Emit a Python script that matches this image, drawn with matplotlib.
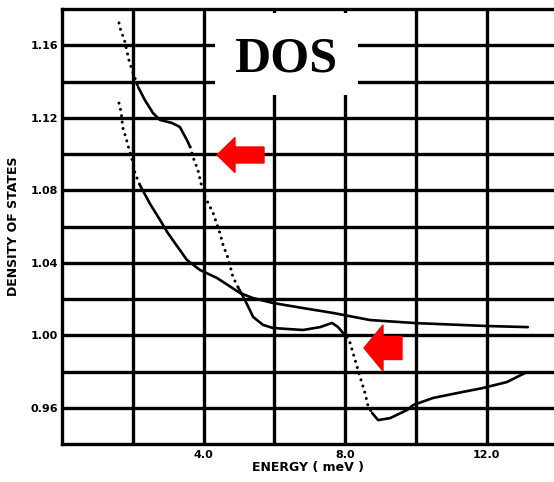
import matplotlib
matplotlib.use('Agg')
import matplotlib.pyplot as plt
from matplotlib.patches import Rectangle, FancyArrow
from matplotlib.transforms import IdentityTransform

# curve A: smooth falling curve (dotted start, then solid)
a_dot_x = [1.61, 1.67, 1.72, 1.81, 1.86, 2.01, 2.06, 2.20]
a_dot_y = [1.1281, 1.1232, 1.1143, 1.1088, 1.1050, 1.0950, 1.0895, 1.0829]
a_x = [2.20, 2.49, 2.77, 2.99, 3.53, 3.90, 4.38, 5.03, 5.40, 5.96, 6.81, 7.66,
       8.70, 10.0, 12.01, 13.16]
a_y = [1.0829, 1.0724, 1.0636, 1.0564, 1.0415, 1.0360, 1.0316, 1.0233, 1.0205,
       1.0178, 1.0150, 1.0123, 1.0084, 1.0067, 1.0051, 1.0045]

# curve B: shoulder curve with dip near 9 meV, split into solid / dotted parts
b_dot1_x = [1.61, 1.67, 1.75, 1.84, 1.89, 1.98, 2.15]
b_dot1_y = [1.1723, 1.1673, 1.1640, 1.1563, 1.1519, 1.1463, 1.1370]
b_sol1_x = [2.15, 2.34, 2.57, 2.77, 3.11, 3.33, 3.53, 3.62]
b_sol1_y = [1.1370, 1.1298, 1.1226, 1.1188, 1.1171, 1.1149, 1.1077, 1.1039]
b_dot2_x = [3.62, 3.70, 3.84, 3.95, 4.04, 4.27, 4.46, 4.55, 4.69, 4.83, 4.97]
b_dot2_y = [1.1039, 1.0983, 1.0912, 1.0818, 1.0763, 1.0674, 1.0564, 1.0498,
            1.0426, 1.0321, 1.0266]
b_sol2_x = [4.97, 5.17, 5.40, 5.68, 5.96, 6.81, 7.29, 7.63, 7.80, 7.94, 8.05]
b_sol2_y = [1.0266, 1.0194, 1.0101, 1.0057, 1.0040, 1.0029, 1.0045, 1.0068,
            1.0045, 1.0012, 0.9990]
b_dot3_x = [8.05, 8.14, 8.28, 8.42, 8.56, 8.64, 8.76]
b_dot3_y = [0.9990, 0.9957, 0.9863, 0.9770, 0.9681, 0.9615, 0.9571]
b_sol3_x = [8.76, 8.93, 9.27, 9.75, 9.92, 10.48, 11.16, 11.89, 12.57, 13.08]
b_sol3_y = [0.9571, 0.9532, 0.9543, 0.9588, 0.9615, 0.9654, 0.9681, 0.9709,
            0.9742, 0.9792]

x_grid = [2, 4, 6, 8, 10, 12]
x_labels = ['', '4.0', '', '8.0', '', '12.0']
y_grid = [0.96, 0.98, 1.00, 1.02, 1.04, 1.06, 1.08, 1.10, 1.12, 1.14, 1.16]
y_labels = ['0.96', '', '1.00', '', '1.04', '', '1.08', '', '1.12', '', '1.16']


def main():
    fig = plt.figure(figsize=(5.54, 4.82), dpi=100)
    ax = fig.add_axes([0.1119, 0.0788, 0.8946, 0.9025])
    ax.set_xlim(0, 14)
    ax.set_ylim(0.94, 1.18)

    solid = dict(color='black', lw=1.9, solid_capstyle='round', zorder=4)
    dotted = dict(color='black', lw=2.2, linestyle=(0, (0.01, 2.1)),
                  dash_capstyle='round', zorder=4)
    ax.plot(a_dot_x, a_dot_y, **dotted)
    ax.plot(a_x, a_y, **solid)
    ax.plot(b_dot1_x, b_dot1_y, **dotted)
    ax.plot(b_sol1_x, b_sol1_y, **solid)
    ax.plot(b_dot2_x, b_dot2_y, **dotted)
    ax.plot(b_sol2_x, b_sol2_y, **solid)
    ax.plot(b_dot3_x, b_dot3_y, **dotted)
    ax.plot(b_sol3_x, b_sol3_y, **solid)

    # heavy grid of the scanned chart paper
    ax.set_axisbelow(True)
    ax.set_xticks(x_grid)
    ax.set_xticklabels(x_labels, fontsize=8, fontweight='bold')
    ax.set_yticks(y_grid)
    ax.set_yticklabels(y_labels, fontsize=8, fontweight='bold')
    ax.tick_params(length=0)
    ax.tick_params(axis='x', pad=4)
    ax.tick_params(axis='y', pad=3)
    ax.grid(True, color='black', lw=2.4)
    for s in ax.spines.values():
        s.set_linewidth(2.4)

    ax.set_xlabel('ENERGY ( meV )', fontsize=9, fontweight='bold', va='center')
    ax.xaxis.set_label_coords(0.496, -0.055)
    ax.set_ylabel('DENSITY OF STATES', fontsize=9, fontweight='bold', va='center')
    ax.yaxis.set_label_coords(-0.097, 0.5)

    # white label box with "DOS"
    ax.add_patch(Rectangle((4.32, 1.1325), 4.04, 0.0453, facecolor='white',
                           edgecolor='none', zorder=3))
    ax.text(6.33, 1.1455, 'DOS', fontsize=36, fontweight='bold',
            family='Liberation Serif', ha='center', va='baseline', zorder=5)

    # red arrows (pixel coordinates)
    fig.add_artist(FancyArrow(264, 327, -47, 0, width=16, head_width=35,
                              head_length=18, length_includes_head=True,
                              color='#ff0000', transform=IdentityTransform()))
    fig.add_artist(FancyArrow(402, 134, -38, 0, width=23, head_width=46,
                              head_length=19, length_includes_head=True,
                              color='#ff0000', transform=IdentityTransform()))

    fig.savefig('out.png', dpi=100)


if __name__ == '__main__':
    main()
